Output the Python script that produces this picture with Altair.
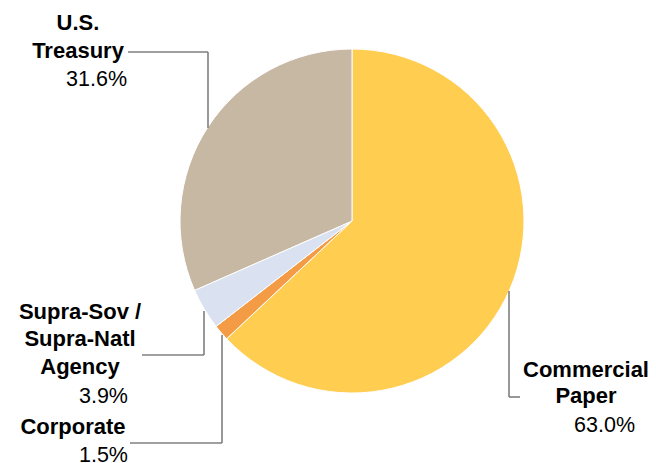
import altair as alt
import pandas as pd

categories = ["Commercial Paper", "Corporate", "Supra-Sov / Supra-Natl Agency", "U.S. Treasury"]
values = [63.0, 1.5, 3.9, 31.6]
colors = ["#FFCD50", "#F49C45", "#DAE2F2", "#C7B8A3"]
label_lines = [["Commercial", "Paper"], ["Corporate"], ["Supra-Sov /", "Supra-Natl", "Agency"], ["U.S.", "Treasury"]]

df = pd.DataFrame({"category": categories, "value": values, "idx": list(range(len(categories)))})

OX, OY = 8, 8  # page margin offset

pie = alt.Chart(df).mark_arc(radius=172, stroke="white", strokeWidth=1).encode(
    theta=alt.Theta("value:Q", stack=True),
    color=alt.Color("category:N", scale=alt.Scale(domain=categories, range=colors), legend=None),
    order=alt.Order("idx:Q"),
    x=alt.value(352 - OX),
    y=alt.value(221 - OY),
)

# leader lines (page pixel coordinates): (x1, y1, x2, y2)
segments = [
    (128, 52, 208, 52), (208, 52, 208, 128),      # U.S. Treasury
    (204, 311, 204, 355), (142, 355, 204, 355),   # Supra
    (222, 335, 222, 443), (130, 443, 222, 443),   # Corporate
    (509, 291, 509, 397), (509, 397, 520, 397),   # Commercial Paper
]
rules = []
for x1, y1, x2, y2 in segments:
    rules.append(
        alt.Chart(pd.DataFrame({"a": [0]})).mark_rule(color="#7F7F7F", strokeWidth=1.6).encode(
            x=alt.value(x1 - OX), x2=alt.value(x2 - OX), y=alt.value(y1 - OY), y2=alt.value(y2 - OY)
        )
    )

# label line placements: (center x, baselines) per category, and pct right edge / baseline
label_pos = [
    (586, [377, 403]),
    (73, [434]),
    (80, [319, 346, 374]),
    (78, [30, 58]),
]
pct_pos = [(635, 432), (128, 462), (128, 403), (127, 86)]

texts = []
for i, cat in enumerate(categories):
    cx, bls = label_pos[i]
    for line, bl in zip(label_lines[i], bls):
        texts.append(
            alt.Chart(pd.DataFrame({"t": [line]})).mark_text(
                font="Liberation Sans", fontSize=22, fontWeight="bold", color="#000000",
                align="center", baseline="alphabetic",
            ).encode(text="t:N", x=alt.value(cx - OX), y=alt.value(bl - OY))
        )
    px, pb = pct_pos[i]
    texts.append(
        alt.Chart(pd.DataFrame({"t": [f"{values[i]:.1f}%"]})).mark_text(
            font="Liberation Sans", fontSize=21.5, color="#000000",
            align="right", baseline="alphabetic",
        ).encode(text="t:N", x=alt.value(px - OX), y=alt.value(pb - OY))
    )

chart = alt.layer(pie, *rules, *texts).properties(
    width=640, height=455, padding=0, autosize="none", background="white"
).configure_view(stroke=None)

chart.save("out.html", embed_options={"renderer": "svg", "actions": False})
